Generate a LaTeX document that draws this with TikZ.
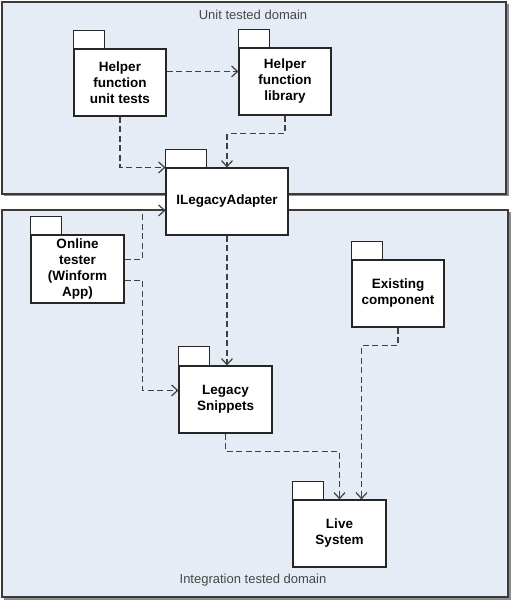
\documentclass[tikz,border=0pt]{standalone}
\usepackage{fontspec}
\setmainfont{Liberation Sans}
\usetikzlibrary{arrows.meta,calc}
\definecolor{regfill}{HTML}{E6ECF6}
\definecolor{regline}{HTML}{3A3A3A}
\definecolor{conn}{HTML}{404040}
\tikzset{
  region/.style={fill=regfill,draw=regline,line width=1.4pt},
  regshadow/.style={fill=black!45,draw=none},
  pkgbody/.style={draw=black!85,fill=white,line width=1.1pt,align=center,
    font=\fontsize{13.5}{16}\selectfont\bfseries,inner sep=0pt},
  pkgtab/.style={draw=black!85,fill=white,line width=1.1pt},
  dep/.style={draw=conn,line width=1.5pt,dash pattern=on 6pt off 3.5pt,
    -{Straight Barb[length=6pt,width=11pt,line width=1.2pt]}},
  domlabel/.style={font=\fontsize{13}{15}\selectfont,text=black!72,inner sep=0pt}
}
\begin{document}
\begin{tikzpicture}[x=1pt,y=-1pt]
\useasboundingbox (0,0) rectangle (511,601);
\fill[white] (0,0) rectangle (511,601);
% regions
\fill[regshadow] (4,4) rectangle (508.5,196.5);
\draw[region] (2,2) rectangle (506,194);
\fill[regshadow] (4,212) rectangle (510.5,599.5);
\draw[region] (2,210) rectangle (508,597);
\node[domlabel] (udom) at (253,15) {Unit tested domain};
\node[domlabel] (idom) at (253,580) {Integration tested domain};
% packages
\node[pkgbody,minimum width=92pt,minimum height=67pt] (hut) at (120,82.5) {Helper\\function\\unit tests};
\draw[pkgtab] (hut.north west) rectangle ++(31,-18);
\node[pkgbody,minimum width=92pt,minimum height=67pt] (hfl) at (285,81.5) {Helper\\function\\library};
\draw[pkgtab] (hfl.north west) rectangle ++(31,-18);
\node[pkgbody,minimum width=122pt,minimum height=67pt] (ila) at (227,201.5) {ILegacyAdapter};
\draw[pkgtab] (ila.north west) rectangle ++(41,-18);
\node[pkgbody,minimum width=93pt,minimum height=68pt] (ot) at (77.5,269) {Online\\tester\\(Winform\\App)};
\draw[pkgtab] (ot.north west) rectangle ++(31,-18);
\node[pkgbody,minimum width=92pt,minimum height=67pt] (ec) at (398,293.5) {Existing\\component};
\draw[pkgtab] (ec.north west) rectangle ++(31,-18);
\node[pkgbody,minimum width=93pt,minimum height=67pt] (ls) at (225.5,399.5) {Legacy\\Snippets};
\draw[pkgtab] (ls.north west) rectangle ++(31,-19);
\node[pkgbody,minimum width=93pt,minimum height=67pt] (lv) at (339.5,533.5) {Live\\System};
\draw[pkgtab] (lv.north west) rectangle ++(31,-18);
% connectors
\draw[dep] ($(hut.north east)+(0,23)$) -- ($(hfl.north west)+(0,24)$);
\draw[dep] (hut.south) |- (ila.north west);
\draw[dep] (hfl.south) -- ++(0,18) -| (ila.north);
\draw[dep] ($(ot.north east)+(0,25)$) -- ++(18,0) |- ($(ila.north west)+(0,43)$);
\draw[dep] ($(ot.north east)+(0,46)$) -- ++(18,0) |- ($(ls.north west)+(0,25)$);
\draw[dep] (ila.south) -- (ila.south |- ls.north);
\draw[dep] (ls.south) -- ++(0,18) -| (lv.north);
\draw[dep] (ec.south) -- ++(0,18) -| ($(lv.north)+(22,0)$);
\end{tikzpicture}
\end{document}
